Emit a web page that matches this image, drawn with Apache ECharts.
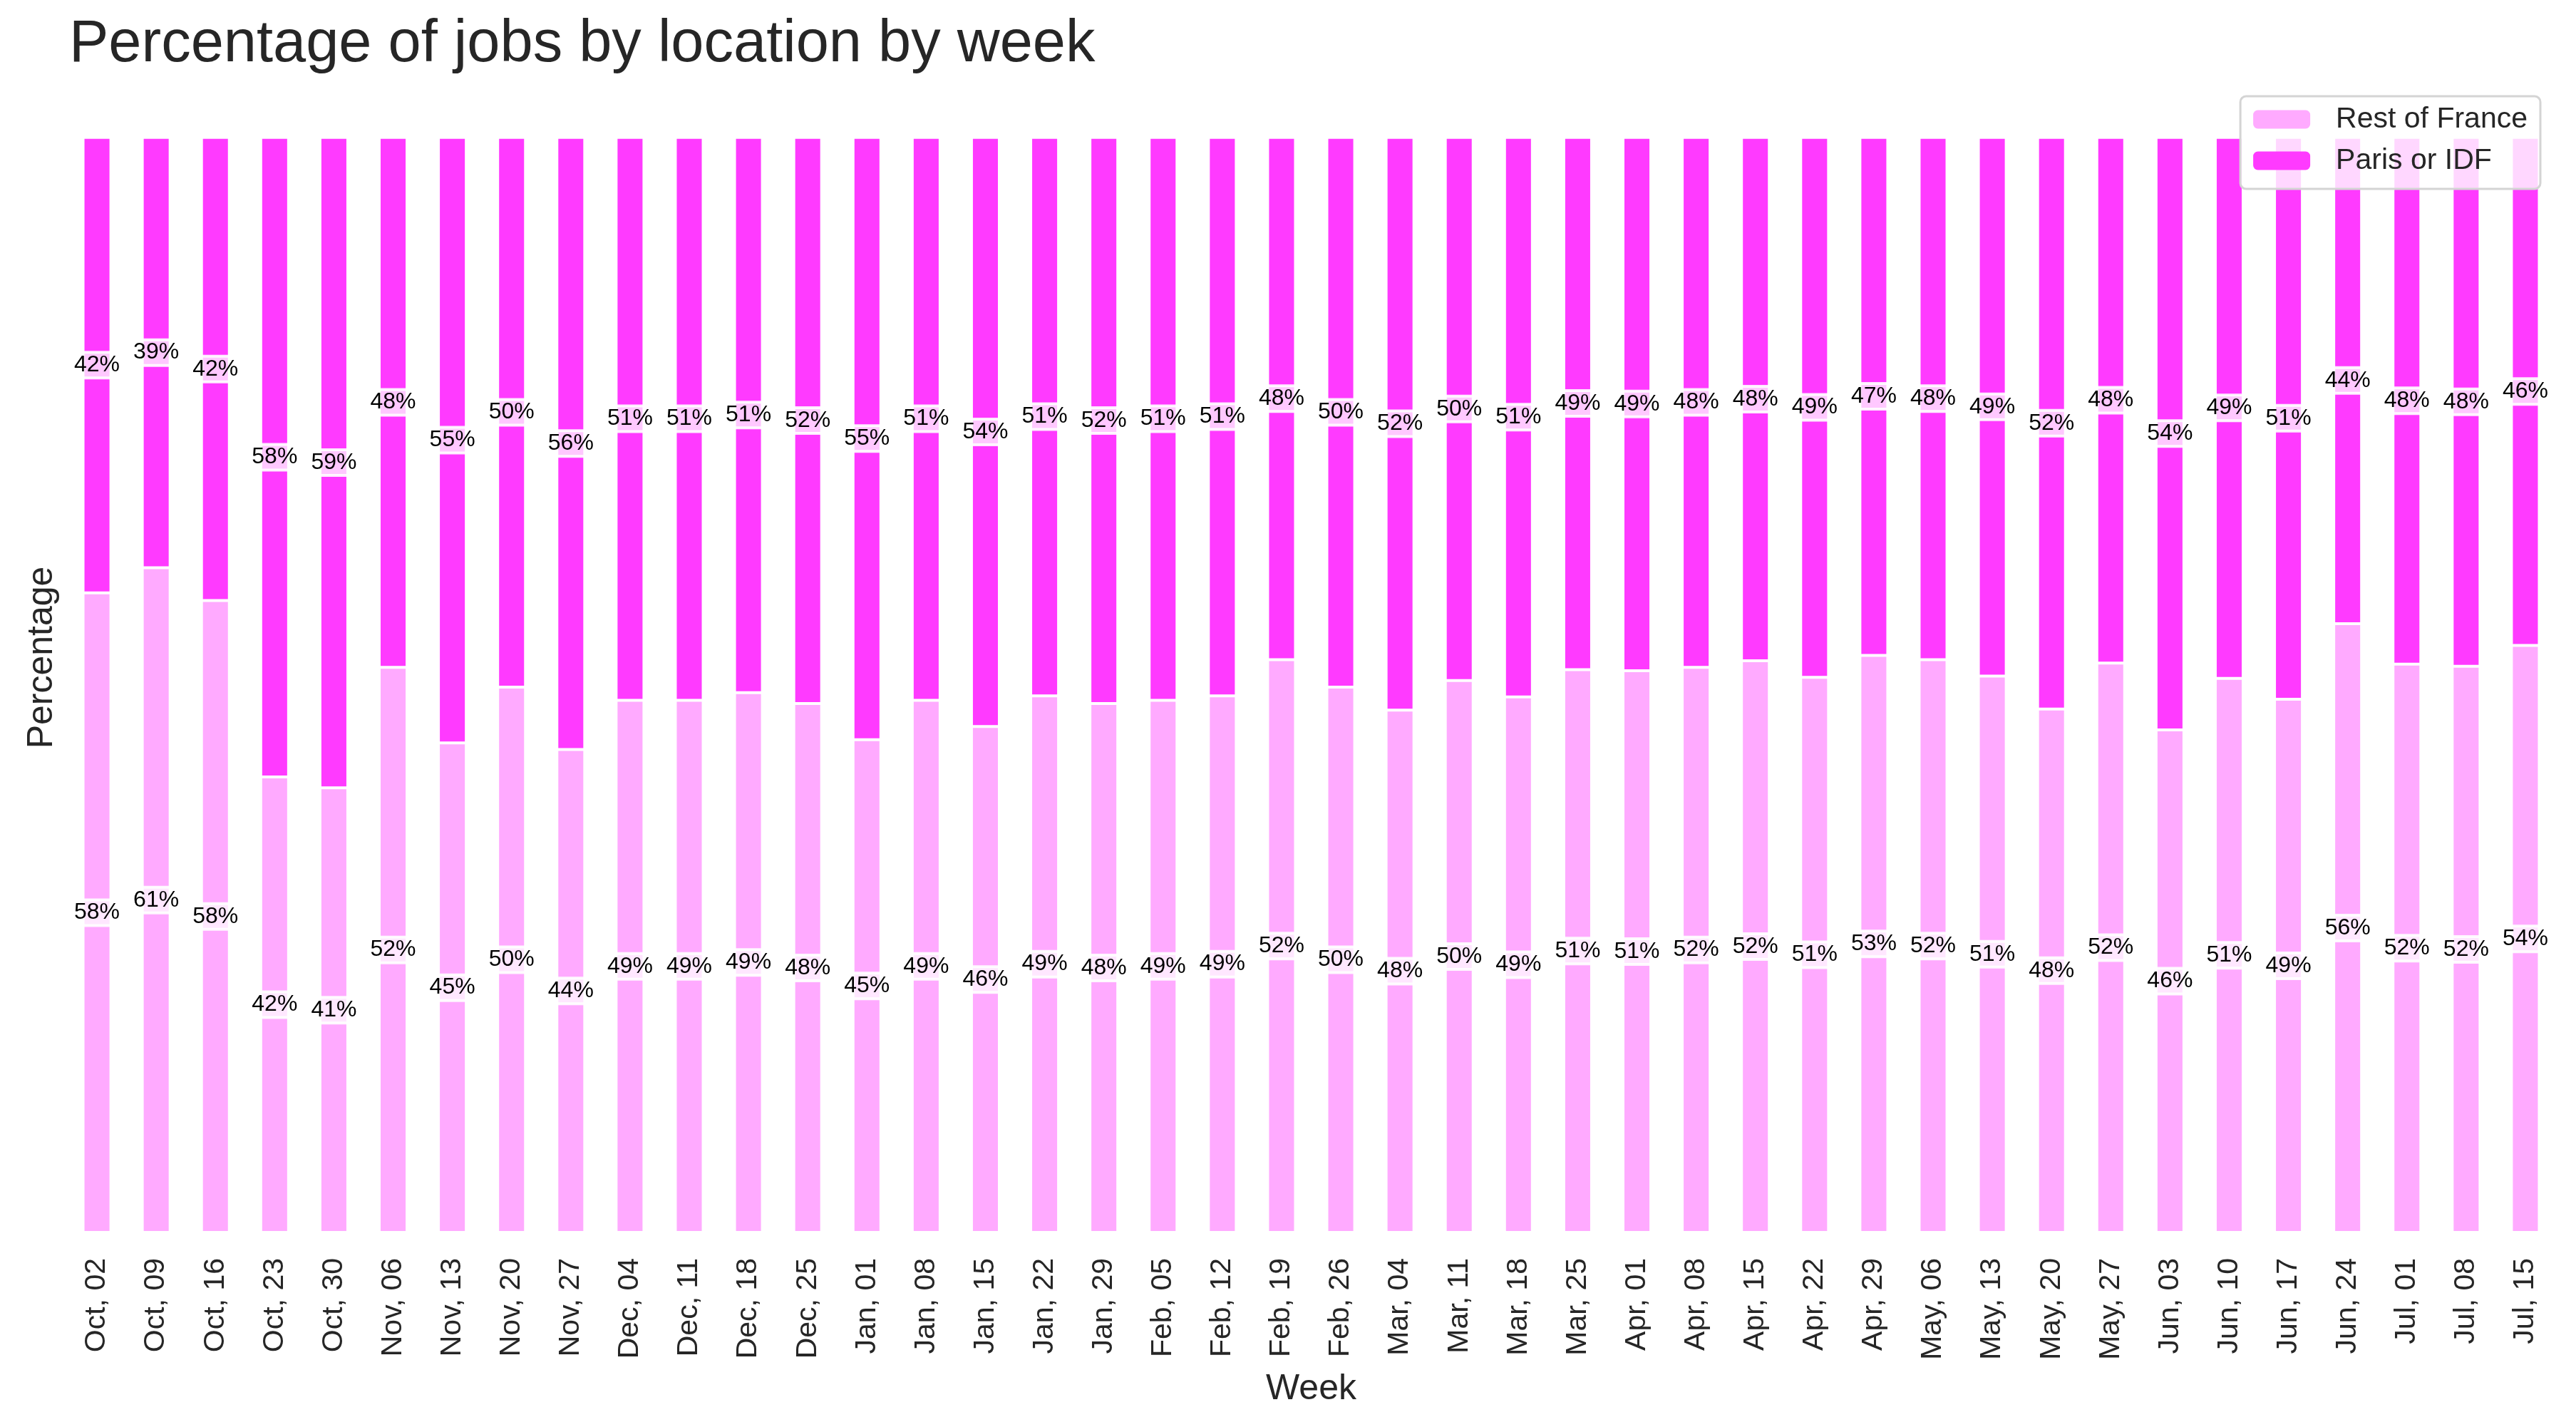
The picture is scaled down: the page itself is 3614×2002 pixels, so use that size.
<!DOCTYPE html>
<html>
<head>
<meta charset="utf-8">
<script src="https://cdn.jsdelivr.net/npm/echarts@6/dist/echarts.min.js"></script>
<style>
html,body{margin:0;padding:0;background:#ffffff;}
#chart{width:3614px;height:2002px;}
</style>
</head>
<body>
<div id="chart"></div>
<script>
const weeks = ["Oct, 02","Oct, 09","Oct, 16","Oct, 23","Oct, 30","Nov, 06","Nov, 13","Nov, 20","Nov, 27",
  "Dec, 04","Dec, 11","Dec, 18","Dec, 25","Jan, 01","Jan, 08","Jan, 15","Jan, 22","Jan, 29",
  "Feb, 05","Feb, 12","Feb, 19","Feb, 26","Mar, 04","Mar, 11","Mar, 18","Mar, 25",
  "Apr, 01","Apr, 08","Apr, 15","Apr, 22","Apr, 29","May, 06","May, 13","May, 20","May, 27",
  "Jun, 03","Jun, 10","Jun, 17","Jun, 24","Jul, 01","Jul, 08","Jul, 15"];
const restOfFrance = [58.4,60.7,57.7,41.6,40.6,51.6,44.7,49.8,44.1,
  48.6,48.6,49.3,48.3,45.0,48.6,46.2,49.0,48.3,
  48.6,49.0,52.3,49.8,47.7,50.4,48.9,51.4,
  51.3,51.6,52.2,50.7,52.7,52.3,50.8,47.8,52.0,
  45.9,50.6,48.7,55.6,51.9,51.7,53.6];
const parisOrIdf = [41.6,39.3,42.3,58.4,59.4,48.4,55.3,50.2,55.9,
  51.4,51.4,50.7,51.7,55.0,51.4,53.8,51.0,51.7,
  51.4,51.0,47.7,50.2,52.3,49.6,51.1,48.6,
  48.7,48.4,47.8,49.3,47.3,47.7,49.2,52.2,48.0,
  54.1,49.4,51.3,44.4,48.1,48.3,46.4];
const seriesNames = ["Rest of France","Paris or IDF"];
const colors = ["#FFAAFF","#FF3AFF"];

// detect narrow font availability
function fontAvailable(name){
  const c=document.createElement('canvas').getContext('2d');
  c.font='40px monospace'; const w1=c.measureText('42% Test').width;
  c.font='40px "'+name+'", monospace'; const w2=c.measureText('42% Test').width;
  return Math.abs(w1-w2)>0.5;
}
const narrow = fontAvailable('Liberation Sans Narrow');
const labelFont = narrow ? '"Liberation Sans Narrow", sans-serif' : '"Liberation Sans", Arial, sans-serif';
const labelSize = narrow ? 38 : 32;

const chart = echarts.init(document.getElementById('chart'), null, {renderer:'canvas'});
const base = '"Liberation Sans", Arial, Helvetica, sans-serif';
function mkLabel(){
  return {
    show:true, position:'inside', color:'#000000',
    fontFamily:labelFont, fontSize:labelSize,
    backgroundColor:'rgba(255,255,255,0.72)',
    borderColor:'rgba(255,255,255,0.9)', borderWidth:2,
    padding:[3,4,1,4],
    formatter: p => Math.round(p.value) + '%'
  };
}
chart.setOption({
  animation:false,
  backgroundColor:'#ffffff',
  textStyle:{fontFamily:base},
  title:{
    text:'Percentage of jobs by location by week',
    left:92, top:17,
    textStyle:{fontFamily:base, fontSize:83, fontWeight:'normal', color:'#262626'}
  },
  legend:{
    data:seriesNames,
    right:50, top:135,
    orient:'vertical',
    itemWidth:80, itemHeight:26, itemGap:17,
    padding:[12,18,19,18],
    backgroundColor:'rgba(255,255,255,0.8)',
    borderColor:'#d4d4d4', borderWidth:3, borderRadius:8,
    textStyle:{fontFamily:base, fontSize:41, color:'#262626', lineHeight:41, padding:[0,0,0,31]},
    itemStyle:{borderWidth:0}
  },
  grid:{left:94.5, right:29.5, top:116, bottom:273, containLabel:false},
  xAxis:{
    type:'category', data:weeks,
    name:'Week', nameLocation:'middle', nameGap:195,
    nameTextStyle:{fontFamily:base, fontSize:50, color:'#262626'},
    axisLine:{show:false}, axisTick:{show:false},
    axisLabel:{rotate:90, fontFamily:base, fontSize:41, color:'#262626', margin:36, interval:0},
    splitLine:{show:false}
  },
  yAxis:{
    type:'value', min:0, max:105,
    name:'Percentage', nameLocation:'middle', nameGap:10,
    nameTextStyle:{fontFamily:base, fontSize:50, color:'#262626'},
    axisLine:{show:false}, axisTick:{show:false}, axisLabel:{show:false},
    splitLine:{show:false}
  },
  series:[
    {name:seriesNames[0], type:'bar', stack:'total', data:restOfFrance, barWidth:'47%',
     itemStyle:{color:colors[0], borderColor:'#ffffff', borderWidth:2},
     label:mkLabel(), z:2},
    {name:seriesNames[1], type:'bar', stack:'total', data:parisOrIdf, barWidth:'47%',
     itemStyle:{color:colors[1], borderColor:'#ffffff', borderWidth:2},
     label:mkLabel(), z:2}
  ]
});
</script>
</body>
</html>
